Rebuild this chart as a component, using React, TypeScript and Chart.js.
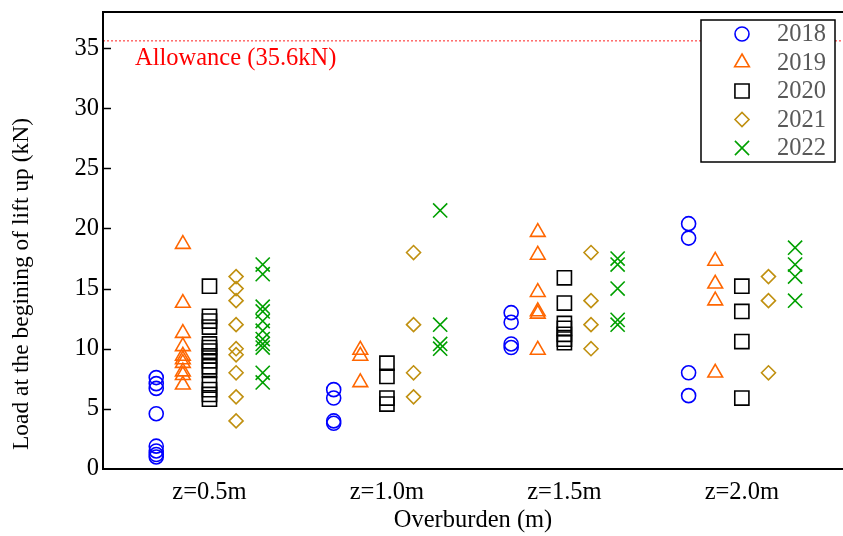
import React, { useEffect, useRef } from "react";
import { Chart, registerables } from "chart.js";
import { drawPoint } from "chart.js/helpers";

Chart.register(...registerables);

const categories = ["z=0.5m", "z=1.0m", "z=1.5m", "z=2.0m"];
const categoryPositions = [1, 2, 3, 4];
const yTicks = [0, 5, 10, 15, 20, 25, 30, 35];
const allowance = 35.6;
const allowanceLabel = "Allowance (35.6kN)";
const yTitle = "Load at the begining of lift up (kN)";
const xTitle = "Overburden (m)";

const years = ["2018", "2019", "2020", "2021", "2022"];

// values per category (z=0.5, 1.0, 1.5, 2.0)
const y2018 = [
  [7.6, 7.1, 6.7, 4.6, 1.9, 1.5, 1.2, 1.0],
  [6.6, 5.9, 4.0, 3.8],
  [13.0, 12.2, 10.4, 10.1],
  [20.4, 19.2, 8.0, 6.1],
];
const y2019 = [
  [18.7, 13.8, 11.3, 10.2, 9.4, 9.1, 8.8, 8.1, 7.8, 7.0],
  [9.9, 9.4, 7.2],
  [19.7, 17.8, 14.7, 13.1, 12.9, 9.9],
  [17.3, 15.4, 14.0, 8.0],
];
const y2020 = [
  [15.2, 12.7, 12.3, 11.8, 10.4, 10.1, 9.8, 9.4, 9.0, 8.5, 8.2, 7.1, 6.6, 6.2, 5.8],
  [8.8, 7.7, 5.9, 5.4],
  [15.9, 13.8, 12.1, 11.7, 11.2, 10.8, 10.5],
  [15.2, 13.1, 10.6, 5.9],
];
const y2021 = [
  [16.0, 15.0, 14.0, 12.0, 10.0, 9.5, 8.0, 6.0, 4.0],
  [18.0, 12.0, 8.0, 6.0],
  [18.0, 14.0, 12.0, 10.0],
  [16.0, 14.0, 8.0],
];
const y2022 = [
  [17.0, 16.2, 13.5, 13.1, 12.3, 11.5, 10.8, 10.4, 10.1, 8.0, 7.2],
  [21.5, 12.0, 10.4, 10.0],
  [17.5, 17.0, 15.0, 12.4, 12.0],
  [18.4, 17.0, 16.0, 14.0],
];
const seriesValues = [y2018, y2019, y2020, y2021, y2022];
const seriesOffsets = [-0.3, -0.15, 0, 0.15, 0.3];

const seriesStyles = [
  { color: "#0000ff", pointStyle: "circle", radius: 7 },
  { color: "#ff6600", pointStyle: "triangle", radius: 8.5 },
  { color: "#000000", pointStyle: "rect", radius: 10 },
  { color: "#c09010", pointStyle: "rectRot", radius: 7 },
  { color: "#00a000", pointStyle: "crossRot", radius: 10 },
];

const FONT = "'Liberation Serif', 'Times New Roman', serif";
const FS = 24.5;

const framePlugin = {
  id: "frame",
  beforeDatasetsDraw(chart: any) {
    const { ctx, chartArea, scales } = chart;
    const y = scales.y;
    ctx.save();
    // allowance line
    const ay = y.getPixelForValue(allowance);
    ctx.strokeStyle = "#ff2020";
    ctx.lineWidth = 1;
    ctx.setLineDash([2, 2]);
    ctx.beginPath();
    ctx.moveTo(chartArea.left, ay);
    ctx.lineTo(chart.width, ay);
    ctx.stroke();
    ctx.setLineDash([]);
    ctx.fillStyle = "#ff0000";
    ctx.font = `${FS}px ${FONT}`;
    ctx.textAlign = "left";
    ctx.textBaseline = "middle";
    ctx.fillText(allowanceLabel, chartArea.left + 32, ay + 18);

    // y-axis title
    ctx.fillStyle = "#000";
    ctx.font = `23.5px ${FONT}`;
    ctx.textAlign = "center";
    ctx.textBaseline = "middle";
    ctx.translate(22, 284);
    ctx.rotate(-Math.PI / 2);
    ctx.fillText(yTitle, 0, 0);
    ctx.setTransform(1, 0, 0, 1, 0, 0);

    // frame
    ctx.strokeStyle = "#000";
    ctx.lineWidth = 2;
    ctx.beginPath();
    ctx.moveTo(chart.width, chartArea.top);
    ctx.lineTo(chartArea.left, chartArea.top);
    ctx.lineTo(chartArea.left, chartArea.bottom);
    ctx.lineTo(chart.width, chartArea.bottom);
    ctx.stroke();
    // inward ticks
    ctx.lineWidth = 1.5;
    for (const t of yTicks) {
      if (t === 0) continue;
      const py = Math.round(y.getPixelForValue(t)) + 0.5;
      ctx.beginPath();
      ctx.moveTo(chartArea.left, py);
      ctx.lineTo(chartArea.left + 8, py);
      ctx.stroke();
    }
    ctx.restore();
  },
  afterDraw(chart: any) {
    const { ctx } = chart;
    ctx.save();
    const bx = 701, by = 20, bw = 134, bh = 142;
    ctx.fillStyle = "#fff";
    ctx.fillRect(bx, by, bw, bh);
    ctx.strokeStyle = "#000";
    ctx.lineWidth = 1.5;
    ctx.strokeRect(bx, by, bw, bh);
    ctx.font = `${FS}px ${FONT}`;
    ctx.textAlign = "left";
    ctx.textBaseline = "middle";
    years.forEach((yr, i) => {
      const s = seriesStyles[i];
      const ry = by + 14 + i * 28.5;
      ctx.strokeStyle = s.color;
      ctx.fillStyle = "rgba(0,0,0,0)";
      ctx.lineWidth = 1.6;
      drawPoint(ctx, { pointStyle: s.pointStyle, radius: s.radius, borderWidth: 1.6, rotation: 0 } as any, 742, ry);
      ctx.fillStyle = "#595959";
      ctx.fillText(yr, 777, ry + 1);
    });
    ctx.restore();
  },
};

export default function App() {
  const ref = useRef<HTMLCanvasElement | null>(null);
  useEffect(() => {
    if (!ref.current) return;
    const datasets = years.map((yr, si) => {
      const data: { x: number; y: number }[] = [];
      seriesValues[si].forEach((vals, ci) => {
        vals.forEach((v) => data.push({ x: categoryPositions[ci] + seriesOffsets[si], y: v }));
      });
      const s = seriesStyles[si];
      return {
        label: yr,
        data,
        showLine: false,
        pointStyle: s.pointStyle,
        pointRadius: s.radius,
        pointBorderColor: s.color,
        pointBackgroundColor: "rgba(0,0,0,0)",
        pointBorderWidth: 1.6,
        borderColor: s.color,
        backgroundColor: "rgba(0,0,0,0)",
      };
    });
    const chart = new Chart(ref.current, {
      type: "scatter",
      data: { datasets: datasets as any },
      options: {
        responsive: false,
        animation: false,
        layout: { autoPadding: false, padding: { top: 12, right: 0, left: 0, bottom: 0 } },
        plugins: { legend: { display: false }, tooltip: { enabled: false } },
        scales: {
          x: {
            type: "linear",
            min: 0.4,
            max: 4.57,
            afterBuildTicks: (axis: any) => {
              axis.ticks = categoryPositions.map((v) => ({ value: v }));
            },
            afterFit: (axis: any) => {
              axis.height = 67;
              axis.paddingLeft = 0;
              axis.paddingRight = 0;
            },
            grid: { display: false, drawTicks: false },
            border: { display: false },
            ticks: {
              color: "#000",
              font: { family: FONT, size: FS },
              padding: 9,
              maxRotation: 0,
              autoSkip: false,
              callback: (v: any) => {
                const i = categoryPositions.indexOf(Number(v));
                return i >= 0 ? categories[i] : "";
              },
            },
            title: {
              display: true,
              text: xTitle,
              color: "#000",
              font: { family: FONT, size: FS },
              padding: { top: 0, bottom: 1 },
            },
          },
          y: {
            min: 0,
            max: 38,
            afterBuildTicks: (axis: any) => {
              axis.ticks = yTicks.map((v) => ({ value: v }));
            },
            afterFit: (axis: any) => {
              axis.width = 103;
              axis.paddingTop = 0;
              axis.paddingBottom = 0;
            },
            grid: { display: false, drawTicks: false },
            border: { display: false },
            ticks: {
              color: "#000",
              font: { family: FONT, size: FS },
              padding: 4,
            },
            title: { display: false },
          },
        },
      },
      plugins: [framePlugin],
    });
    return () => chart.destroy();
  }, []);
  return (
    <div style={{ position: "absolute", left: 0, top: 0, width: 843, height: 536, background: "#fff" }}>
      <canvas ref={ref} width={843} height={536} />
    </div>
  );
}
